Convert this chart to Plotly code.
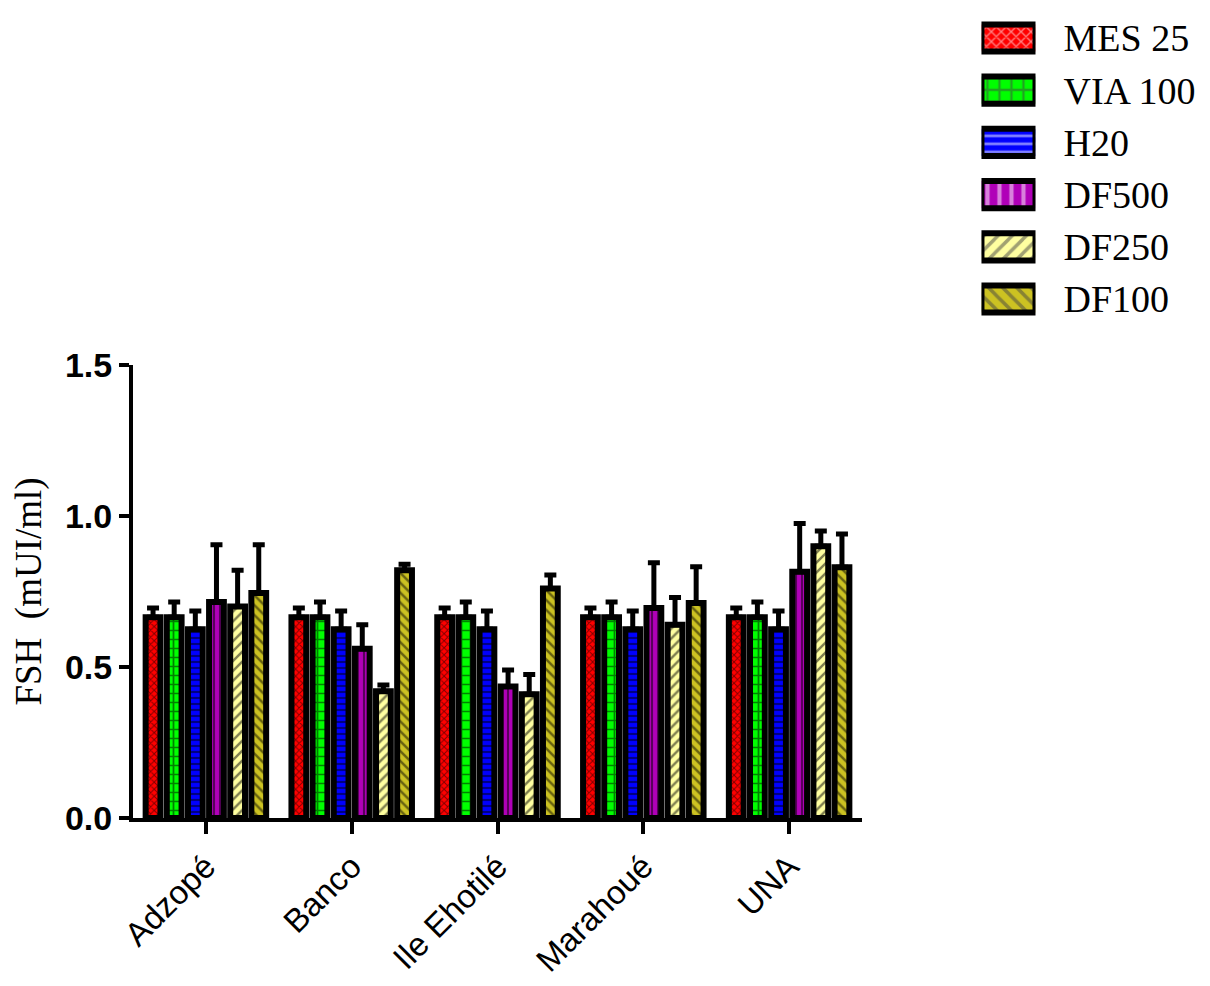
import plotly.graph_objects as go

# -------------------
# Data
# -------------------
sites = ["Adzopé", "Banco", "Ile Ehotilé", "Marahoué", "UNA"]

series_names = ["MES 25", "VIA 100", "H20", "DF500", "DF250", "DF100"]

mes25 = [0.665, 0.665, 0.665, 0.665, 0.665]
via100 = [0.665, 0.665, 0.665, 0.665, 0.665]
h20 = [0.625, 0.625, 0.625, 0.625, 0.625]
df500 = [0.715, 0.560, 0.435, 0.695, 0.815]
df250 = [0.700, 0.420, 0.410, 0.640, 0.900]
df100 = [0.745, 0.820, 0.760, 0.712, 0.830]

# upper error only (SEM)
mes25_err = [0.030, 0.030, 0.030, 0.030, 0.030]
via100_err = [0.050, 0.050, 0.050, 0.050, 0.050]
h20_err = [0.060, 0.060, 0.060, 0.060, 0.060]
df500_err = [0.190, 0.080, 0.055, 0.150, 0.160]
df250_err = [0.120, 0.020, 0.065, 0.090, 0.050]
df100_err = [0.160, 0.020, 0.045, 0.120, 0.110]

y_ticks = [0, 0.5, 1.0, 1.5]

# -------------------
# Style
# -------------------
fill_colors = ["#FF0000", "#00FF00", "#0000FF", "#B000B8", "#FFFFA0", "#CCC222"]
pattern_shapes = ["x", "+", "-", "|", "/", "\\"]
pattern_sizes = [5, 9, 6, 6, 7, 7]

values = [mes25, via100, h20, df500, df250, df100]
errors = [mes25_err, via100_err, h20_err, df500_err, df250_err, df100_err]

BORDER = 6

fig = go.Figure()

for i, (name, y, err) in enumerate(zip(series_names, values, errors)):
    fig.add_trace(
        go.Bar(
            x=sites,
            y=y,
            name=name,
            showlegend=False,
            marker=dict(
                color=fill_colors[i],
                line=dict(color="black", width=BORDER),
                pattern=dict(
                    shape=pattern_shapes[i],
                    fgcolor="black",
                    bgcolor=fill_colors[i],
                    size=pattern_sizes[i],
                    solidity=0.35,
                ),
            ),
            error_y=dict(
                type="data",
                array=err,
                arrayminus=[0] * len(err),
                symmetric=False,
                color="black",
                thickness=5,
                width=6,
            ),
        )
    )

# legend drawn as a small bar panel so the swatches are as large as in the original
fig.add_trace(
    go.Bar(
        x=[1] * len(series_names),
        y=series_names,
        orientation="h",
        width=0.52,
        xaxis="x2",
        yaxis="y2",
        showlegend=False,
        hoverinfo="skip",
        marker=dict(
            color=fill_colors,
            line=dict(color="black", width=BORDER),
            pattern=dict(
                shape=pattern_shapes,
                fgcolor="black",
                bgcolor=fill_colors,
                size=[7, 12, 8, 12, 10, 10],
                solidity=0.35,
            ),
        ),
    )
)

fig.update_layout(
    width=1210,
    height=986,
    template="simple_white",
    barmode="group",
    bargap=0.13,
    bargroupgap=0.3,
    margin=dict(l=125, r=0, t=0, b=176),
    plot_bgcolor="white",
    paper_bgcolor="white",
    showlegend=False,
    xaxis=dict(
        domain=[0, 0.6719],
        automargin=False,
        ticks="outside",
        ticklen=12,
        tickwidth=4,
        tickcolor="black",
        showline=True,
        linewidth=4,
        linecolor="black",
        tickangle=-45,
        tickfont=dict(family="Liberation Sans", size=33, color="black"),
    ),
    yaxis=dict(
        domain=[0, 0.5593],
        automargin=False,
        range=[0, 1.5],
        tickvals=y_ticks,
        tickformat=".1f",
        ticks="outside",
        ticklen=10,
        tickwidth=4,
        tickcolor="black",
        showline=True,
        linewidth=4,
        linecolor="black",
        tickfont=dict(family="Liberation Sans", size=34, color="black", weight="bold"),
        title=dict(
            text="FSH  (mUI/ml)",
            font=dict(family="Liberation Serif", size=37, color="black"),
            standoff=20,
        ),
    ),
    xaxis2=dict(
        domain=[0.782, 0.8318],
        anchor="y2",
        range=[0, 1],
        visible=False,
    ),
    yaxis2=dict(
        domain=[0.6085, 0.9952],
        anchor="x2",
        automargin=False,
        side="right",
        type="category",
        range=[5.5, -0.5],
        showline=False,
        ticks="",
        showgrid=False,
        ticklabelstandoff=27,
        tickfont=dict(family="Liberation Serif", size=38, color="black"),
    ),
)

fig.write_html("out.html")
